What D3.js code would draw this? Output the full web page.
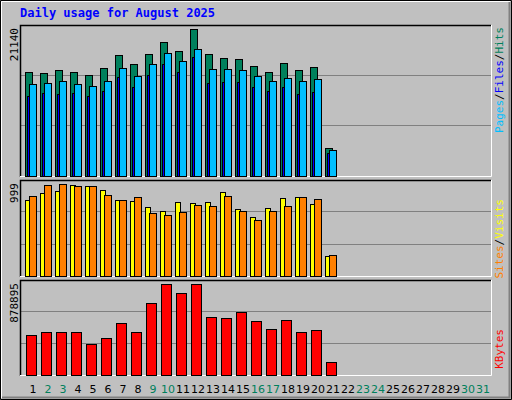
<!DOCTYPE html>
<html><head><meta charset="utf-8">
<script src="https://cdn.jsdelivr.net/npm/d3@7"></script>
<style>body{margin:0;background:#fff}</style></head><body>
<script>
const days = d3.range(1, 32);
const weekend = [2,3,9,10,16,17,23,24,30,31];
const hits  = [14957,14813,15244,14957,14525,15532,17401,16107,17545,19271,17976,21140,17545,16970,16826,15819,14957,16251,15244,15676,4027];
const files = [13231,13374,13662,13231,12943,13662,15532,14381,16107,17689,16539,18264,15388,15388,15244,14381,13662,14094,13662,13950,3739];
const pages = [11504,11935,11792,11935,11504,12223,14237,12798,14525,16107,14957,17114,13374,13518,13518,12798,12223,12798,11792,12079,3308];
const visits= [825,901,923,988,977,934,825,814,749,706,803,793,803,912,727,641,738,847,858,782,217];
const sites = [869,988,999,977,977,880,825,858,684,662,695,771,760,869,706,608,706,760,858,836,228];
const kbytes= [383000,412000,412000,412000,296000,354000,499000,412000,692000,878895,789000,878895,557000,548000,606000,519000,441000,528000,412000,432000,123000];
const maxLabels = ["21140","999","878895"];

const W=512,H=400;
const svg=d3.select("body").append("svg").attr("width",W).attr("height",H);
svg.append("rect").attr("width",W).attr("height",H).attr("fill","#C0C0C0");
// bevel
svg.append("path").attr("d","M0.5,399.5V0.5H511.5V399.5Z").attr("fill","none").attr("stroke","#000");
svg.append("path").attr("d","M1.5,398V1.5H510").attr("fill","none").attr("stroke","#fff");
svg.append("path").attr("d","M2,397.5H509.5V2").attr("fill","none").attr("stroke","#808080").attr("stroke-width",2);

svg.append("text").attr("x",20).attr("y",17).attr("fill","#0000FF")
  .attr("font-family","DejaVu Sans Mono").attr("font-weight","bold").attr("font-size",12)
  .text("Daily usage for August 2025");

const x=d3.scaleLinear().domain([1,32]).range([20,485]);
const L=20,R=491;
const panels=[{top:25,bot:177,maxY:29},{top:180,bot:277,maxY:184},{top:280,bot:376,maxY:284}];
panels.forEach((p,i)=>{
  svg.append("rect").attr("x",L).attr("y",p.top).attr("width",R-L).attr("height",p.bot-p.top).attr("fill","#C0C0C0");
  const h=p.bot-p.top;
  [1/3,2/3].forEach(f=>svg.append("line").attr("x1",L).attr("x2",R).attr("y1",Math.round(p.bot-1-h*f)+0.5).attr("y2",Math.round(p.bot-1-h*f)+0.5).attr("stroke","#808080"));
  svg.append("path").attr("d",`M${L+0.5},${p.bot}V${p.top+0.5}H${R}`).attr("fill","none").attr("stroke","#000").attr("stroke-width",1.5);
  svg.append("path").attr("d",`M${L},${p.bot-0.5}H${R+0.5}V${p.top}`).attr("fill","none").attr("stroke","#fff");
  svg.append("text").attr("transform",`translate(18,${p.top+3}) rotate(-90)`).attr("text-anchor","end")
    .attr("font-family","DejaVu Sans Mono").attr("font-size",11).attr("fill","#000").text(maxLabels[i]);
});
const y1=d3.scaleLinear().domain([0,21140]).range([176,29]);
const y2=d3.scaleLinear().domain([0,999]).range([276,184]);
const y3=d3.scaleLinear().domain([0,878895]).range([375,284]);
function bars(data,y,off,w,col){
  svg.append("g").selectAll("rect").data(data).join("rect")
    .attr("x",(d,i)=>x(i+1)+off+0.5).attr("y",d=>Math.round(y(d))+0.5)
    .attr("width",w).attr("height",d=>y(0)-Math.round(y(d)))
    .attr("fill",col).attr("stroke","#000");
}
bars(hits,y1,5,7,"#00805C");
bars(pages,y1,7,2,"#0000FF");
bars(files,y1,9,7,"#00BFFF");
bars(visits,y2,5,5,"#FFFF00");
bars(sites,y2,9,7,"#FF8000");
bars(kbytes,y3,6,10,"#FF0000");

svg.append("g").selectAll("text").data(days).join("text")
  .attr("x",d=>x(d)+13).attr("y",393).attr("text-anchor","middle")
  .attr("font-family","DejaVu Sans").attr("font-size",11)
  .attr("fill",d=>weekend.includes(d)?"#00805C":"#000").text(d=>d);

function legend(parts,yTop){
  const t=svg.append("text").attr("transform",`translate(503,${yTop}) rotate(-90)`).attr("text-anchor","end")
    .attr("font-family","DejaVu Sans Mono").attr("font-size",11);
  parts.forEach(([s,c])=>t.append("tspan").attr("fill",c).text(s));
}
legend([["Pages","#00BFFF"],["/","#000"],["Files","#0000FF"],["/","#000"],["Hits","#00805C"]],27);
legend([["Sites","#FF8000"],["/","#000"],["Visits","#FFFF00"]],199);
legend([["KBytes","#FF0000"]],329);
</script></body></html>
